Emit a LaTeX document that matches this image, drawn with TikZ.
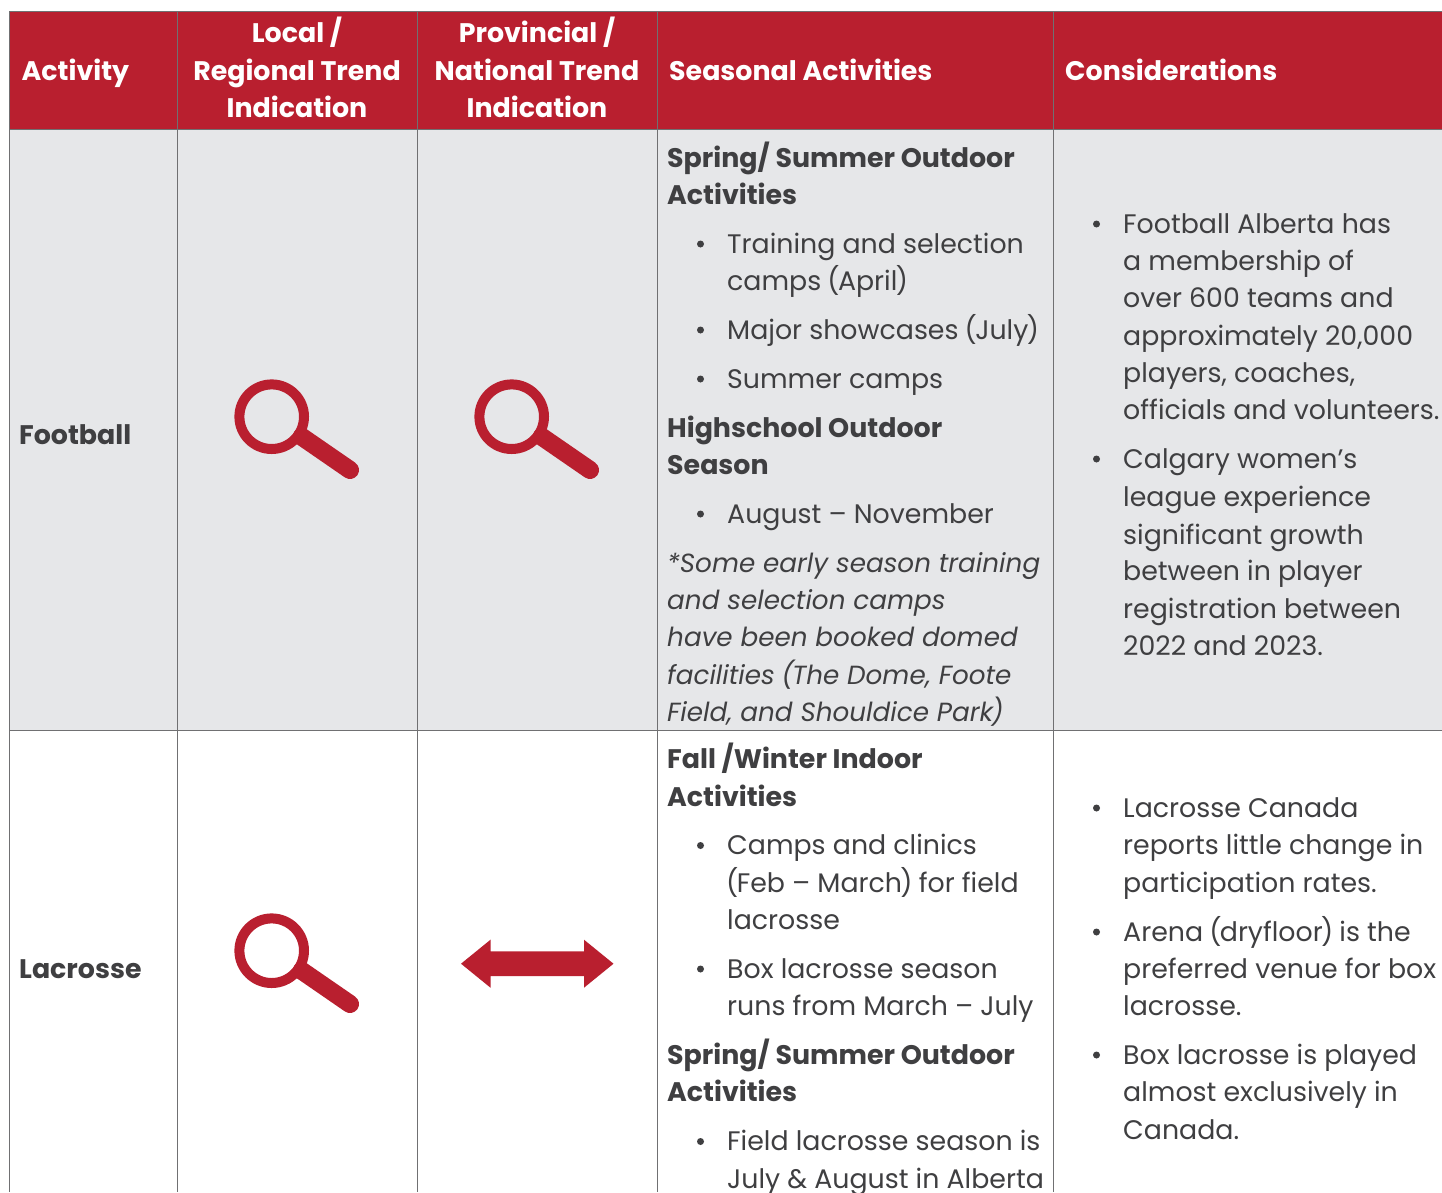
\documentclass[tikz,border=0pt]{standalone}
\usepackage{fontspec}
\setmainfont{Poppins}
\definecolor{brandred}{HTML}{B91F2F}
\definecolor{cellgray}{HTML}{E6E7E9}
\definecolor{bodyink}{HTML}{3F3F41}
\definecolor{rulegray}{HTML}{707072}
\newcount\linecnt
\newcommand{\tline}[4][]{\global\advance\linecnt by 1
  \node[txt,#1] (t\the\linecnt) at (#2,#3) {#4};}
\newcommand{\bul}[2]{\fill[bodyink] (#1,#2-9) circle (3.5pt);}
\newcommand{\LP}{\kern-1pt(\kern-1.6pt}
\newcommand{\RP}{\kern-1.6pt)\kern-1pt}
\tikzset{
  txt/.style={anchor=base west,inner sep=0pt,text=bodyink,font=\fontsize{26.8}{32}\selectfont},
  hd/.style={text=white,font=\fontsize{26.85}{32}\selectfont\bfseries},
  hdc/.style={hd,anchor=base},
  bld/.style={font=\fontsize{26.85}{32}\selectfont\bfseries},
  itl/.style={font=\fontsize{26.25}{32}\selectfont\itshape},
  gridline/.style={rulegray,line width=1pt},
  pics/lens/.style={code={
    \draw[brandred,line width=10pt] (0,0) circle (32.3pt);
    \draw[brandred,line width=18pt,line cap=round] (30,20) -- (78.3,53.3);
  }}
}
\begin{document}
\begin{tikzpicture}[x=1pt,y=-1pt]
\useasboundingbox (0,0) rectangle (1442,1192);
\begin{scope}
\clip (0,0) rectangle (1442,1192);
\fill[white] (0,0) rectangle (1442,1192);
\fill[brandred] (9,11) rectangle (1442,129);
\fill[cellgray] (9,129) rectangle (1442,730);
\draw[gridline] (1442,11) -- (9,11) -- (9,1192);
\draw[gridline] (9,129) -- (1442,129);
\draw[gridline] (9,730.5) -- (1442,730.5);
\foreach \cx in {177.5,417.5,657.5,1053.5} \draw[gridline] (\cx,11) -- (\cx,1192);

\tline[hd]{21.5}{80}{Activity}
\tline[hdc]{297}{42}{Local /}
\tline[hdc]{297}{80}{Regional Trend}
\tline[hdc]{297}{117}{Indication}
\tline[hdc]{537}{42}{Provincial /}
\tline[hdc]{537}{80}{National Trend}
\tline[hdc]{537}{117}{Indication}
\tline[hd]{669}{80}{Seasonal Activities}
\tline[hd]{1065}{80}{Considerations}

\tline[bld]{19}{444}{Football}
\tline[bld]{19}{978}{Lacrosse}

\pic at (271.7,416.7) {lens};
\pic at (511.7,416.7) {lens};
\pic at (271.7,950.7) {lens};
\fill[brandred] (461,963.7) -- (490.5,939.7) -- (490.5,951.4) -- (584,951.4) -- (584,939.7) -- (613.5,963.7) -- (584,987.7) -- (584,976) -- (490.5,976) -- (490.5,987.7) -- cycle;

\tline[bld]{667}{167}{Spring/ Summer Outdoor}
\tline[bld]{667}{204}{Activities}
\bul{700.5}{253}
\tline{727}{253}{Training and selection}
\tline{727}{290}{camps \LP April\RP}
\bul{700.5}{339}
\tline{727}{339}{Major showcases \LP July\RP}
\bul{700.5}{388}
\tline{727}{388}{Summer camps}
\tline[bld]{667}{437}{Highschool Outdoor}
\tline[bld]{667}{474}{Season}
\bul{700.5}{523}
\tline{727}{523}{August – November}
\tline[itl]{667}{572}{*Some early season training}
\tline[itl]{667}{609}{and selection camps}
\tline[itl]{667}{646}{have been booked domed}
\tline[itl]{667}{684}{facilities \LP The Dome, Foote}
\tline[itl]{667}{721}{Field, and Shouldice Park\RP}

\bul{1096.5}{233}
\tline{1123}{233}{Football Alberta has}
\tline{1123}{270}{a membership of}
\tline{1123}{307}{over 600 teams and}
\tline{1123}{345}{approximately 20,000}
\tline{1123}{382}{players, coaches,}
\tline{1123}{419}{officials and volunteers.}
\bul{1096.5}{468}
\tline{1123}{468}{Calgary women’s}
\tline{1123}{506}{league experience}
\tline{1123}{544}{significant growth}
\tline{1123}{580}{between in player}
\tline{1123}{618}{registration between}
\tline{1123}{655}{2022 and 2023.}

\tline[bld]{667}{768}{Fall /Winter Indoor}
\tline[bld]{667}{806}{Activities}
\bul{700.5}{854.5}
\tline{727}{854.5}{Camps and clinics}
\tline{727}{892}{\LP Feb – March\RP\ for field}
\tline{727}{929}{lacrosse}
\bul{700.5}{978}
\tline{727}{978}{Box lacrosse season}
\tline{727}{1015.5}{runs from March – July}
\tline[bld]{667}{1064}{Spring/ Summer Outdoor}
\tline[bld]{667}{1101}{Activities}
\bul{700.5}{1150.5}
\tline{727}{1150.5}{Field lacrosse season is}
\tline{727}{1188}{July \& August in Alberta}

\bul{1096.5}{817}
\tline{1123}{817}{Lacrosse Canada}
\tline{1123}{854.5}{reports little change in}
\tline{1123}{892}{participation rates.}
\bul{1096.5}{941}
\tline{1123}{941}{Arena \LP dryfloor\RP\ is the}
\tline{1123}{978}{preferred venue for box}
\tline{1123}{1015}{lacrosse.}
\bul{1096.5}{1064}
\tline{1123}{1064}{Box lacrosse is played}
\tline{1123}{1101}{almost exclusively in}
\tline{1123}{1139}{Canada.}
\end{scope}
\end{tikzpicture}
\end{document}
